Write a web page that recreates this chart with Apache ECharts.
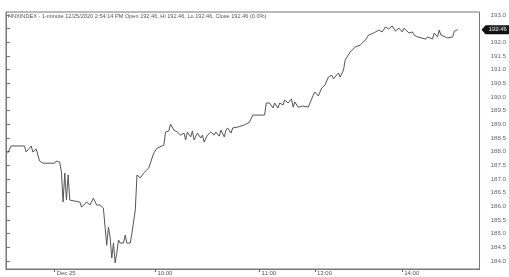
<!DOCTYPE html>
<html><head><meta charset="utf-8">
<script src="https://cdn.jsdelivr.net/npm/echarts@6/dist/echarts.min.js"></script>
<style>html,body{margin:0;padding:0;background:#fff}#c{width:509px;height:277px}</style>
</head><body><div id="c"></div>
<script>
// bar index (trading minutes, lunch break removed) and close price
const barIdx = [1,3,11,12,14,15,16,18,19,20,22,29,30,32,33,34,35,36,37,38,39,44,45,48,50,52,54,56,58,59,60,61,62,63,64,65,66,67,68,70,71,72,74,75,77,78,80,82,85,88,90,94,95,97,98,100,102,104,106,107,108,110,111,112,114,116,117,118,120,122,124,125,127,128,130,131,132,134,135,138,142,145,147,150,154,155,157,159,160,162,163,165,166,168,169,170,171,172,174,177,180,181,183,184,186,188,190,192,194,195,198,199,201,202,205,208,211,214,216,219,222,224,226,228,230,232,234,236,237,240,242,243,245,250,251,254,255,257,258,259,260,263,264,266,267,268,269];
const closes = [187.95,188.21,188.21,187.99,188.13,188.21,187.99,188.10,187.88,187.66,187.58,187.58,187.66,187.62,187.26,186.16,187.22,186.23,187.15,186.23,186.16,186.16,185.97,186.16,186.05,186.30,186.05,186.05,185.94,185.24,184.58,185.24,184.88,184.11,184.66,183.93,184.29,184.77,184.66,184.66,184.95,184.66,184.66,185.02,185.87,187.15,187.04,187.22,187.40,187.95,188.13,188.24,188.72,188.76,189.01,188.79,188.72,188.61,188.68,188.43,188.72,188.54,188.76,188.43,188.68,188.50,188.61,188.35,188.61,188.72,188.61,188.72,188.57,188.79,188.54,188.79,188.87,188.68,188.87,188.90,188.98,189.08,189.34,189.34,189.34,189.78,189.78,189.60,189.78,189.60,189.78,189.71,189.89,189.78,189.82,189.93,189.63,189.82,189.63,189.67,189.63,189.78,190.07,190.18,190.04,190.33,190.44,190.73,190.80,190.66,190.88,190.73,190.99,191.35,191.65,191.83,191.90,192.09,192.27,192.34,192.45,192.38,192.56,192.49,192.60,192.41,192.52,192.38,192.52,192.34,192.38,192.27,192.20,192.12,192.20,192.12,192.34,192.20,192.45,192.27,192.20,192.16,192.23,192.20,192.41,192.45,192.46];
const timeTickIdx = [29, 89, 151, 184, 236];
const timeTickLabels = ['Dec 25', '10:00', '11:00', '13:00', '14:00'];
const priceTicks = [184.0,184.5,185.0,185.5,186.0,186.5,187.0,187.5,188.0,188.5,189.0,189.5,190.0,190.5,191.0,191.5,192.0,192.5,193.0];
const lastPrice = 192.46;
const headerText = 'HNXINDEX - 1-minute 12/25/2020 2:54:14 PM Open 192.46, Hi 192.46, Lo 192.46, Close 192.46 (0.0%)';

const chart = echarts.init(document.getElementById('c'), null, {renderer: 'canvas'});
const FONT = '"Liberation Sans", Arial, sans-serif';
const labelMap = {};
timeTickIdx.forEach((t, i) => labelMap[t] = timeTickLabels[i]);
const header = {
  type: 'text', left: 8, top: 13,
  style: {text: headerText, fontSize: 5.6, fill: '#555', fontFamily: FONT}
};

chart.setOption({
  animation: false,
  backgroundColor: '#ffffff',
  grid: {left: 6, right: 24, top: 12, bottom: 8, show: true, borderColor: '#777', borderWidth: 1, backgroundColor: 'transparent'},
  xAxis: {
    type: 'value', min: 0, max: 282,
    splitLine: {show: false},
    axisLine: {show: true, lineStyle: {color: '#777', width: 1}},
    axisTick: {show: true, customValues: timeTickIdx, length: 3, lineStyle: {color: '#666'}},
    axisLabel: {show: true, customValues: timeTickIdx, formatter: v => labelMap[v] || '', align: 'left', margin: 1, padding: [0,0,0,2], fontSize: 6, color: '#555', fontFamily: FONT}
  },
  yAxis: {
    type: 'value', position: 'right', min: 183.71, max: 193.11, scale: true,
    splitLine: {show: false},
    axisLine: {show: true, lineStyle: {color: '#777', width: 1}},
    axisTick: {show: true, customValues: priceTicks, length: 4, lineStyle: {color: '#777'}},
    axisLabel: {show: true, customValues: priceTicks, formatter: v => v.toFixed(1), margin: 11, fontSize: 6.2, color: '#666', fontFamily: FONT}
  },
  series: [{
    type: 'line',
    data: barIdx.map((t, i) => [t, closes[i]]),
    showSymbol: false,
    lineStyle: {color: '#555', width: 1},
    silent: true
  }],
  graphic: [header]
});

// last-price marker on the price axis
const py = chart.convertToPixel({yAxisIndex: 0}, lastPrice);
const px = chart.convertToPixel({xAxisIndex: 0}, 282);
chart.setOption({
  graphic: [header, {
    type: 'polygon',
    shape: {points: [[px + 2, py], [px + 6, py - 4.5], [px + 30, py - 4.5], [px + 30, py + 4.5], [px + 6, py + 4.5]]},
    style: {fill: '#111'}
  }, {
    type: 'text', x: px + 9, y: py,
    style: {text: lastPrice.toFixed(2), fontSize: 6, fill: '#fff', fontFamily: FONT, verticalAlign: 'middle'}
  }]
});
</script></body></html>
